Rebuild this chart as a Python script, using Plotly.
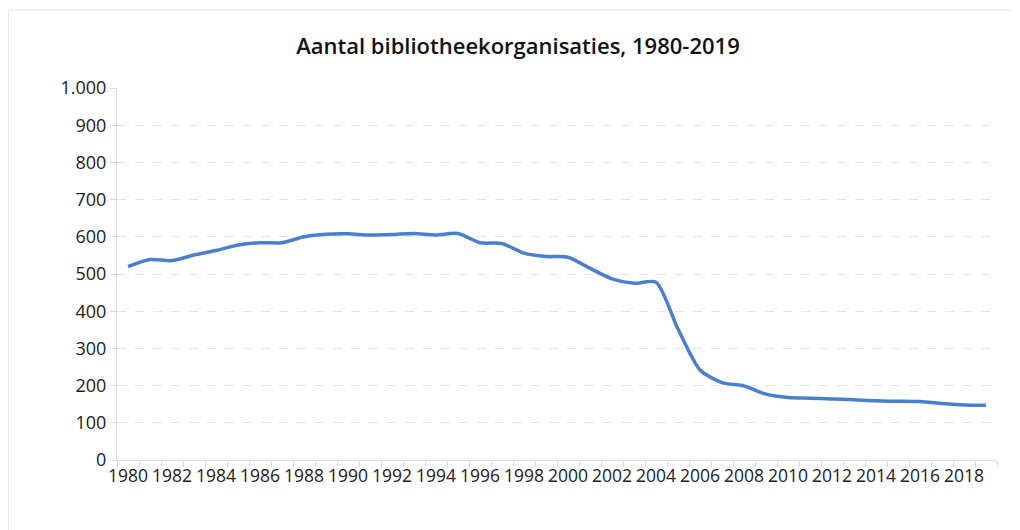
import plotly.graph_objects as go

years = list(range(1980, 2020))
values = [520, 539, 536, 551, 563, 578, 584, 584, 600, 607,
          608, 605, 606, 609, 605, 609, 584, 582, 556, 547,
          545, 515, 487, 475, 478, 352, 242, 208, 199, 177,
          168, 166, 164, 162, 159, 158, 157, 152, 148, 147]
label_years = [y for y in years if y % 2 == 0 and y <= 2018]
y_ticks = list(range(0, 1001, 100))
title = "Aantal bibliotheekorganisaties, 1980-2019"

fig = go.Figure()
fig.add_trace(go.Scatter(
    x=years, y=values, mode="lines",
    line=dict(color="#4a7fcb", width=3.5, shape="spline", smoothing=0.7),
    hoverinfo="x+y", showlegend=False))

# the page body adds an 8px offset, so the figure is sized to compensate
W, H = 1012, 522
l, r, t, b = 109, 23, 80, 70
pw, ph = W - l - r, H - t - b

def px_to_paper(px, py):
    return (px - l) / pw, (H - b - py) / ph

x0, y0 = px_to_paper(0.5, 2)
x1, y1 = px_to_paper(1008, 540)

fig.update_layout(
    width=W, height=H,
    margin=dict(l=l, r=r, t=t, b=b),
    paper_bgcolor="white", plot_bgcolor="white",
    separators=",.",
    font=dict(family="'Open Sans', Roboto, sans-serif", color="#222222"),
    title=dict(text=title, x=510 / W, xanchor="center", xref="container",
               y=1 - 38 / H, yanchor="middle", yref="container",
               font=dict(size=22, color="#111111", weight=600)),
    xaxis=dict(
        range=[1979.5, 2019.5],
        tickvals=label_years, ticktext=[str(y) for y in label_years],
        ticks="", showgrid=False, zeroline=False,
        showline=True, linecolor="#d9d9d9", linewidth=1,
        tickfont=dict(size=17.5, color="#222222"),
        minor=dict(tickvals=[y - 0.5 for y in years] + [2019.5], ticks="outside",
                   ticklen=6, tickcolor="#d9d9d9", showgrid=False),
    ),
    yaxis=dict(
        range=[0, 1000], tickvals=y_ticks,
        tickformat=",d", separatethousands=True,
        showgrid=True, gridcolor="#e3e3e3", griddash="dash", gridwidth=1,
        zeroline=False, showline=True, linecolor="#d9d9d9", linewidth=1,
        ticks="outside", ticklen=6, tickcolor="#d9d9d9",
        tickfont=dict(size=18, color="#222222"),
    ),
    shapes=[dict(type="rect", xref="paper", yref="paper",
                 x0=x0, y0=y0, x1=x1, y1=y1,
                 line=dict(color="#e6e6e6", width=1), layer="below")],
)

fig.write_html("out.html")
